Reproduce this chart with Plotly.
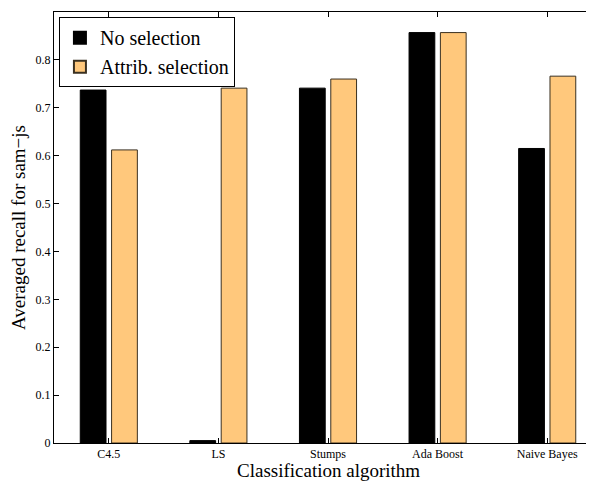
import plotly.graph_objects as go

categories = ["C4.5", "LS", "Stumps", "Ada Boost", "Naive Bayes"]
no_selection = [0.737, 0.005, 0.741, 0.857, 0.615]
attrib_selection = [0.612, 0.741, 0.760, 0.857, 0.766]
y_ticks = [0, 0.1, 0.2, 0.3, 0.4, 0.5, 0.6, 0.7, 0.8, 0.9]
y_tick_labels = ["0", "0.1", "0.2", "0.3", "0.4", "0.5", "0.6", "0.7", "0.8", "0.9"]

xs = list(range(len(categories)))
bw = 0.235

fig = go.Figure()
fig.add_trace(go.Bar(
    x=xs, y=no_selection, name="No selection",
    width=bw, offset=-0.143 - bw / 2,
    marker=dict(color="#000000", line=dict(color="#000000", width=1)),
))
fig.add_trace(go.Bar(
    x=xs, y=attrib_selection, name="Attrib. selection",
    width=bw, offset=0.143 - bw / 2,
    marker=dict(color="#FFC87C", line=dict(color="#3a3020", width=1)),
))

ff = "Liberation Serif"
fig.update_layout(
    width=594, height=483,
    margin=dict(l=46, r=0, t=4, b=48, autoexpand=False),
    paper_bgcolor="white", plot_bgcolor="white",
    barmode="overlay",
    font=dict(family=ff, color="black"),
    showlegend=True,
    legend=dict(
        x=0.009, y=0.988, xanchor="left", yanchor="top",
        bordercolor="black", borderwidth=1, bgcolor="white",
        font=dict(size=20, family=ff, color="black"),
        tracegroupgap=0, itemsizing="constant",
    ),
    xaxis=dict(
        range=[-0.5, 4.5],
        tickmode="array", tickvals=xs, ticktext=categories,
        tickfont=dict(size=12, family=ff, color="black"),
        ticks="inside", ticklen=5, tickwidth=1, tickcolor="black",
        showline=True, linecolor="black", linewidth=1, mirror="ticks",
        showgrid=False, zeroline=False, automargin=False,
    ),
    yaxis=dict(
        range=[0, 0.9],
        tickmode="array", tickvals=y_ticks, ticktext=y_tick_labels,
        tickfont=dict(size=12, family=ff, color="black"),
        ticks="inside", ticklen=5, tickwidth=1, tickcolor="black",
        showline=True, linecolor="black", linewidth=1, mirror="ticks",
        showgrid=False, zeroline=False, automargin=False,
        title=dict(text="Averaged recall for sam\u2212js",
                   font=dict(size=19, family=ff, color="black"), standoff=6),
    ),
    annotations=[dict(
        text="Classification algorithm", xref="paper", yref="paper",
        x=0.5, y=0, xanchor="center", yanchor="top", yshift=-15,
        showarrow=False, font=dict(size=19, family=ff, color="black"),
    )],
)

fig.write_html("out.html")
